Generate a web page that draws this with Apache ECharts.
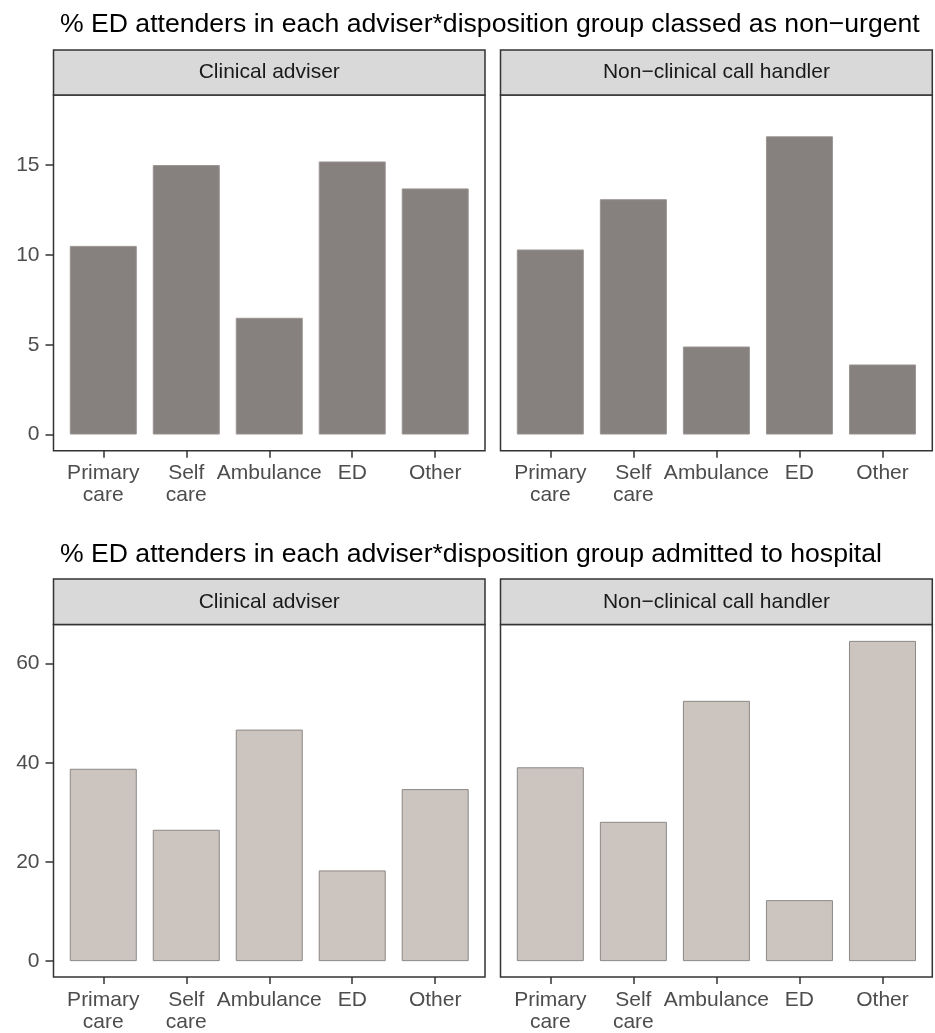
<!DOCTYPE html>
<html><head><meta charset="utf-8">
<script src="https://cdn.jsdelivr.net/npm/echarts@6/dist/echarts.min.js"></script>
<style>html,body{margin:0;padding:0;background:#fff}#c{width:935px;height:1033px}</style>
</head><body><div id="c"></div>
<script>
// ---- data ----
const categories = ['Primary\ncare', 'Self\ncare', 'Ambulance', 'ED', 'Other'];
const facets = ['Clinical adviser', 'Non\u2212clinical call handler'];
const titles = [
  '% ED attenders in each adviser*disposition group classed as non\u2212urgent',
  '% ED attenders in each adviser*disposition group admitted to hospital'
];
const nonUrgentClinical = [10.5, 15.0, 6.5, 15.2, 13.7];
const nonUrgentNonClinical = [10.3, 13.1, 4.9, 16.6, 3.9];
const admittedClinical = [38.8, 26.5, 46.7, 18.3, 34.7];
const admittedNonClinical = [39.1, 28.1, 52.5, 12.3, 64.6];
const nonUrgentTicks = [0, 5, 10, 15];
const admittedTicks = [0, 20, 40, 60];

// ---- layout ----
const FONT = '"Liberation Sans", Arial, sans-serif';
const panelsX = [{left: 53.5, width: 431.5}, {left: 500.5, width: 431.8}];
const rows = [
  {top: 95, height: 355.7, stripTop: 50, min: -0.9, max: 18.9, ticks: nonUrgentTicks,
   series: [nonUrgentClinical, nonUrgentNonClinical], fill: '#86817f', border: '#9a9593', titleTop: 6},
  {top: 624.5, height: 355.5, stripTop: 579, min: -3.2, max: 67.9, ticks: admittedTicks,
   series: [admittedClinical, admittedNonClinical], fill: '#cbc4bf', border: '#8c8886', titleTop: 536}
];
const catPos = categories.map((c, i) => i + 1);

const grid = [], xAxis = [], yAxis = [], series = [], graphic = [], title = [];
rows.forEach((r, ri) => {
  title.push({text: titles[ri], left: 55, top: r.titleTop,
    textStyle: {fontSize: 26.6, fontWeight: 'normal', color: '#000', fontFamily: FONT}});
  panelsX.forEach((p, pi) => {
    const gi = grid.length;
    grid.push({left: p.left, top: r.top, width: p.width, height: r.height, show: true,
      borderColor: '#333', borderWidth: 1.5, backgroundColor: 'transparent', containLabel: false});
    xAxis.push({type: 'value', gridIndex: gi, min: 0.4, max: 5.6,
      axisLine: {show: false, onZero: false}, splitLine: {show: false},
      axisTick: {show: true, customValues: catPos, length: 7, lineStyle: {color: '#333', width: 1.5}},
      axisLabel: {show: true, customValues: catPos, formatter: v => categories[Math.round(v) - 1],
        color: '#4d4d4d', fontSize: 21, lineHeight: 22, margin: 12, fontFamily: FONT}});
    yAxis.push({type: 'value', gridIndex: gi, min: r.min, max: r.max,
      axisLine: {show: false, onZero: false}, splitLine: {show: false},
      axisTick: {show: pi === 0, customValues: r.ticks, length: 8, lineStyle: {color: '#333', width: 1.5}},
      axisLabel: {show: pi === 0, customValues: r.ticks, color: '#4d4d4d', fontSize: 21, margin: 14, fontFamily: FONT}});
    series.push({type: 'bar', xAxisIndex: gi, yAxisIndex: gi, barWidth: 67,
      data: r.series[pi].map((v, k) => [catPos[k], v]),
      itemStyle: {color: r.fill, borderColor: r.border, borderWidth: 1},
      silent: true, animation: false});
    graphic.push({type: 'rect', shape: {x: p.left, y: r.stripTop, width: p.width, height: r.top - r.stripTop},
      style: {fill: '#d9d9d9', stroke: '#333', lineWidth: 1.5}, z: 10});
    graphic.push({type: 'text', x: p.left + p.width / 2, y: (r.stripTop + r.top) / 2,
      style: {text: facets[pi], fill: '#1a1a1a', font: '21px ' + FONT,
        align: 'center', verticalAlign: 'middle', textAlign: 'center', textVerticalAlign: 'middle'}, z: 11});
  });
});

const chart = echarts.init(document.getElementById('c'), null, {renderer: 'canvas'});
chart.setOption({animation: false, backgroundColor: '#fff', title, grid, xAxis, yAxis, series, graphic});
</script>
</body></html>
